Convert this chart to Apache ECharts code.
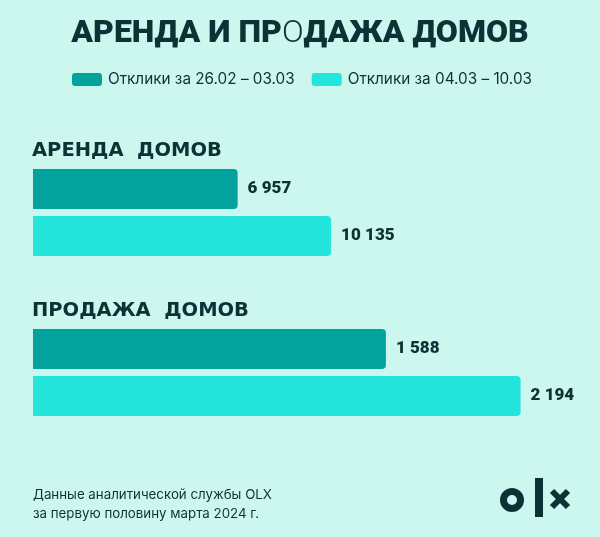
<!DOCTYPE html>
<html><head><meta charset="utf-8">
<script src="https://cdn.jsdelivr.net/npm/echarts@6/dist/echarts.min.js"></script>
<style>html,body{margin:0;padding:0;background:#CCF7EE;}#c{width:600px;height:537px;}</style>
</head><body><div id="c"></div>
<script>
const seriesNames = ['Отклики за 26.02 – 03.03', 'Отклики за 04.03 – 10.03'];
const groups = ['АРЕНДА  ДОМОВ', 'ПРОДАЖА  ДОМОВ'];
const rentValues = [6957, 10135];
const saleValues = [1588, 2194];
const axisMax = [17000, 2250];
const colors = ['#02A29D', '#23E5DC'];
const dark = '#0D3236';

function fmt(v){ return String(v).replace(/\B(?=(\d{3})+(?!\d))/g, ' '); }

const chart = echarts.init(document.getElementById('c'), null, {renderer:'canvas'});
const groupVals = [rentValues, saleValues];
const grids = [
  {left:33, width:500, top:162.5, height:100},
  {left:33, width:500, top:322.5, height:100}
];
const series = [];
groupVals.forEach((vals, gi) => {
  vals.forEach((v, si) => {
    series.push({
      type:'bar', name:seriesNames[si], xAxisIndex:gi, yAxisIndex:gi,
      data:[v], barWidth:40, barGap:'17.5%',
      itemStyle:{color:colors[si], borderRadius:[0,4,4,0]},
      label:{show:true, position:'right', distance:10, formatter:p=>fmt(p.value),
        color:dark, fontFamily:'Roboto', fontWeight:900, fontSize:17},
      emphasis:{disabled:true}, animation:false
    });
  });
});
chart.setOption({
  backgroundColor:'#CCF7EE',
  animation:false,
  title:[
    {text:'АРЕНДА И ПР{o|О}ДАЖА ДОМОВ', left:'center', top:13,
     textStyle:{fontFamily:'Roboto', fontWeight:900, fontSize:32, color:dark,
       rich:{o:{fontFamily:'Roboto', fontWeight:300, fontSize:32, color:dark}}}},
    {text:groups[0], left:27, top:136, textStyle:{fontFamily:'DejaVu Sans', fontWeight:'bold', fontSize:19.5, color:dark}},
    {text:groups[1], left:27, top:296, textStyle:{fontFamily:'DejaVu Sans', fontWeight:'bold', fontSize:19.5, color:dark}},
    {text:'Данные аналитической службы OLX\nза первую половину марта 2024 г.', left:28, top:480,
     textStyle:{fontFamily:'Inter', fontWeight:'normal', fontSize:13.3, lineHeight:19, color:dark}}
  ],
  legend:{data:seriesNames, left:67, top:67, itemWidth:30, itemHeight:13, itemGap:17,
    icon:'roundRect', textStyle:{fontFamily:'Inter', fontSize:15.3, color:dark, padding:[0,0,0,1]},
    selectedMode:false},
  grid:grids,
  xAxis:grids.map((g,i)=>({type:'value', gridIndex:i, min:0, max:axisMax[i], show:false})),
  yAxis:grids.map((g,i)=>({type:'category', gridIndex:i, data:[groups[i]], show:false, inverse:true})),
  series:series,
  graphic:[
    {type:'circle', shape:{cx:512, cy:500, r:8.5}, style:{fill:'none', stroke:dark, lineWidth:7}},
    {type:'rect', shape:{x:535, y:478, width:8, height:39}, style:{fill:dark}},
    {type:'line', shape:{x1:552, y1:491, x2:568, y2:507}, style:{stroke:dark, lineWidth:6}},
    {type:'line', shape:{x1:568, y1:491, x2:552, y2:507}, style:{stroke:dark, lineWidth:6}}
  ]
});
</script></body></html>
